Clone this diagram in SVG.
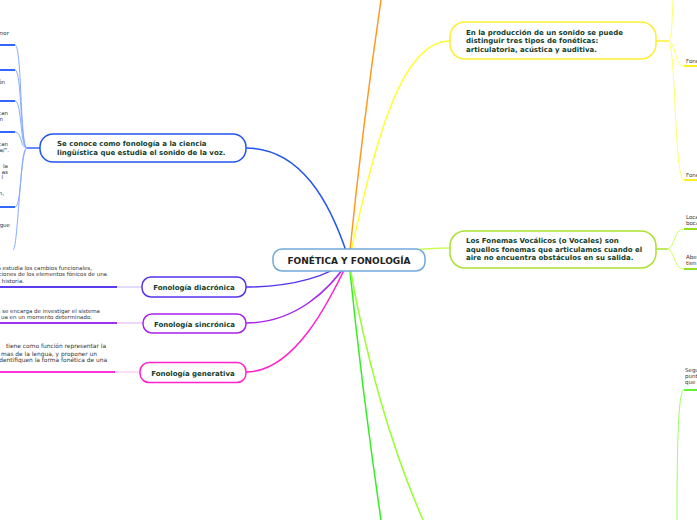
<svg xmlns="http://www.w3.org/2000/svg" width="697" height="520" viewBox="0 0 697 520">
<style>
.nt{font-family:"DejaVu Sans",Verdana,sans-serif;font-weight:bold;font-size:7px;fill:#123e2e}
.mt{font-family:"DejaVu Sans",Verdana,sans-serif;font-weight:bold;font-size:9px;fill:#222}
.sm{font-family:"DejaVu Sans",Verdana,sans-serif;font-size:5.5px;fill:#333}
.sg{font-size:5.9px}
.c{fill:none;stroke-width:1.5;stroke-linecap:round}
.thin{fill:none;stroke-width:1}
.ul{fill:none;stroke-width:2}
</style>
<rect width="697" height="520" fill="#fff"/>
<g id="connectors">
  <path class="c" stroke="#2255ee" d="M246,148 C300,148 330,200 349,260"/>
  <path class="c" stroke="#5533ee" d="M246,287 C295,287 330,275 349,260"/>
  <path class="c" stroke="#aa22ee" d="M246,323 C295,323 330,290 349,260"/>
  <path class="c" stroke="#ff22cc" d="M246,372 C295,372 330,300 349,260"/>
  <path class="c" stroke="#ff9922" d="M349,260 Q362,130 381,0"/>
  <path class="c" stroke="#ffff33" d="M349,260 C370,170 395,41 450,41"/>
  <path class="c" stroke="#ccff55" d="M349,258 C390,252 420,248 450,248"/>
  <path class="c" stroke="#33ee22" d="M349,262 Q362,390 381,520"/>
  <path class="c" stroke="#99ff33" d="M349,262 Q375,410 423,520"/>
  <path class="c" stroke="#3366ff" d="M40,148 L27,148"/>
  <g class="thin" stroke="#88aaff">
    <path d="M27,148 C20,148 22,45 15,45"/>
    <path d="M27,148 C20,148 22,70 15,70"/>
    <path d="M27,148 C20,148 22,101 15,101"/>
    <path d="M27,148 C20,148 22,132 15,132"/>
    <path d="M27,148 C20,148 22,207 15,207"/>
    <path d="M27,148 C20,148 18,250 13,250"/>
  </g>
  <g class="ul" stroke="#3366ff">
    <path d="M0,45 H15"/><path d="M0,70 H15"/><path d="M0,101 H15"/><path d="M0,132 H15"/><path d="M0,207 H15"/>
  </g>
  <path class="thin" stroke="#c4b8ff" d="M117,287 H142"/>
  <path class="ul" stroke="#5a3cf0" d="M0,287 H117"/>
  <path class="thin" stroke="#dcb0ff" d="M117,323 H143"/>
  <path class="ul" stroke="#a030f0" d="M0,323 H117"/>
  <path class="thin" stroke="#ffb8f0" d="M115,372 H140"/>
  <path class="ul" stroke="#ff30dd" d="M0,372 H115"/>
  <path class="c" stroke="#ffee33" d="M656,41 H668"/>
  <g class="thin" stroke="#ffff66">
    <path d="M668,41 C672,41 672,20 673,0"/>
    <path d="M668,41 C676,41 674,66 684,66"/>
    <path d="M668,41 C676,41 674,180 684,180"/>
  </g>
  <path class="ul" stroke="#ffee22" d="M684,66 H697"/>
  <path class="ul" stroke="#ffee22" d="M684,180 H697"/>
  <path class="c" stroke="#aae233" d="M656,249 H667"/>
  <g class="thin" stroke="#ccff66">
    <path d="M667,249 C675,249 673,229 684,229"/>
    <path d="M667,249 C675,249 673,269 684,269"/>
  </g>
  <path class="ul" stroke="#99dd22" d="M684,229 H697"/>
  <path class="ul" stroke="#99dd22" d="M684,269 H697"/>
  <path class="thin" stroke="#99ff66" d="M677,520 C677,450 678,390 684,390"/>
  <path class="ul" stroke="#66ee33" d="M684,390 H697"/>
</g>
<g id="n-left-texts">
  <text class="sm" text-anchor="end" x="9" y="35">mor</text>
  <text class="sm" text-anchor="end" x="5" y="84">ón</text>
  <text class="sm" text-anchor="end" x="8" y="115">can</text>
  <text class="sm" text-anchor="end" x="3" y="121">n</text>
  <text class="sm" text-anchor="end" x="8" y="146">can</text>
  <text class="sm" text-anchor="end" x="9" y="152">a/".</text>
  <text class="sm" text-anchor="end" x="8" y="168">la</text>
  <text class="sm" text-anchor="end" x="8" y="173.5">as</text>
  <text class="sm" text-anchor="end" x="3" y="179">l</text>
  <text class="sm" text-anchor="end" x="4" y="194.5">n,</text>
  <text class="sm" text-anchor="end" x="10" y="227">gue</text>
</g>
<g id="n-fonologia">
  <rect x="40" y="134" width="206" height="28" rx="13" fill="#fff" stroke="#2255ee" stroke-width="1.5"/>
  <text class="nt" x="57" y="145.5">Se conoce como fonología a la ciencia</text>
  <text class="nt" x="57" y="154.5">lingüística que estudia el sonido de la voz.</text>
</g>
<g id="n-diacronica">
  <text class="sm" text-anchor="end" x="92" y="270">a estudia los cambios funcionales,</text>
  <text class="sm" text-anchor="end" x="107" y="276">ciones de los elementos fónicos de una</text>
  <text class="sm" text-anchor="end" x="24" y="282.5">historia.</text>
  <rect x="142" y="277" width="104" height="20" rx="9" fill="#fff" stroke="#5533ee" stroke-width="1.5"/>
  <text class="nt" x="194" y="290" text-anchor="middle">Fonología diacrónica</text>
</g>
<g id="n-sincronica">
  <text class="sm" text-anchor="end" x="100" y="313">a se encarga de investigar el sistema</text>
  <text class="sm" text-anchor="end" x="92" y="319">ua en un momento determinado.</text>
  <rect x="143" y="314" width="103" height="19" rx="9" fill="#fff" stroke="#aa22ee" stroke-width="1.5"/>
  <text class="nt" x="194.5" y="326.5" text-anchor="middle">Fonología sincrónica</text>
</g>
<g id="n-generativa">
  <text class="sm sg" text-anchor="end" x="106" y="348">tiene como función representar la</text>
  <text class="sm sg" text-anchor="end" x="97" y="355.5">mas de la lengua, y proponer un</text>
  <text class="sm sg" text-anchor="end" x="107" y="362">identifiquen la forma fonética de una</text>
  <rect x="140" y="362.5" width="106" height="20" rx="9" fill="#fff" stroke="#ff22cc" stroke-width="1.5"/>
  <text class="nt" x="193" y="375.5" text-anchor="middle">Fonología generativa</text>
</g>
<g id="n-main">
  <rect x="273" y="249" width="152" height="22" rx="9" fill="#fff" stroke="#6fa8dc" stroke-width="1.5"/>
  <text class="mt" x="349" y="264" text-anchor="middle">FONÉTICA Y FONOLOGÍA</text>
</g>
<g id="n-produccion">
  <rect x="450" y="22" width="206" height="37" rx="15" fill="#fff" stroke="#ffee33" stroke-width="1.5"/>
  <text class="nt" x="466" y="34.5">En la producción de un sonido se puede</text>
  <text class="nt" x="466" y="43">distinguir tres tipos de fonéticas:</text>
  <text class="nt" x="466" y="51.5">articulatoria, acústica y auditiva.</text>
</g>
<g id="n-vocalicos">
  <rect x="450" y="231" width="206" height="37" rx="15" fill="#fff" stroke="#aae233" stroke-width="1.5"/>
  <text class="nt" x="466" y="243">Los Fonemas Vocálicos (o Vocales) son</text>
  <text class="nt" x="466" y="251.5">aquellos fonemas que articulamos cuando el</text>
  <text class="nt" x="466" y="260">aire no encuentra obstáculos en su salida.</text>
</g>
<g id="n-right-texts">
  <text class="sm" x="686" y="62.5">Fone</text>
  <text class="sm" x="686" y="176.5">Fone</text>
  <text class="sm" x="686" y="219">Loca</text>
  <text class="sm" x="686" y="225">boca</text>
  <text class="sm" x="686" y="259">Aber</text>
  <text class="sm" x="686" y="265">tien</text>
  <text class="sm" x="685" y="372">Segu</text>
  <text class="sm" x="685" y="378">punt</text>
  <text class="sm" x="685" y="384">que</text>
</g>
</svg>
